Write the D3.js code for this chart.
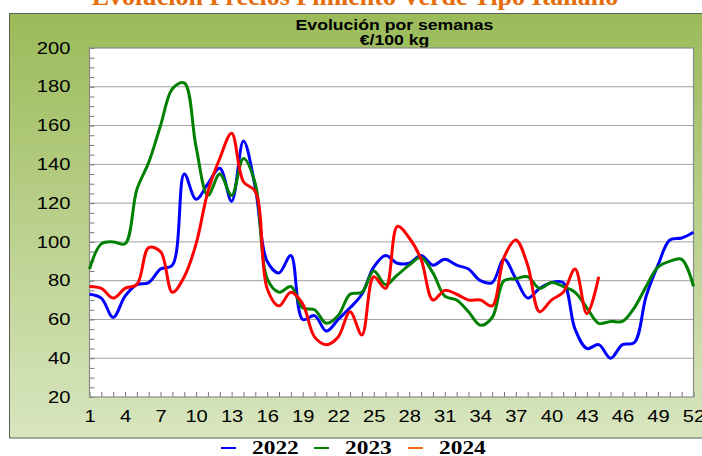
<!DOCTYPE html>
<html>
<head>
<meta charset="utf-8">
<script src="https://cdn.jsdelivr.net/npm/d3@7"></script>
<style>
  body { margin: 0; background: #fff; }
  text { font-family: "Liberation Sans", Arial, sans-serif; }
</style>
</head>
<body>
<svg id="chart"></svg>
<script>
// weekly prices, €/100 kg
const weeks = d3.range(1, 53);
const weekLabels = [1, 4, 7, 10, 13, 16, 19, 22, 25, 28, 31, 34, 37, 40, 43, 46, 49, 52];
const yTicks = [20, 40, 60, 80, 100, 120, 140, 160, 180, 200];

const values2022 = [73, 71, 61, 72, 78, 79, 86, 88, 135, 122, 130, 138, 121, 152, 128, 90, 84, 93,
  60, 62, 54, 60, 66, 73, 87, 93, 89, 89, 93, 88, 91, 88, 86, 80, 79, 91, 81, 71, 76, 79, 79,
  55, 45, 47, 40, 47, 48, 72, 88, 101, 102, 105];
const values2023 = [86, 99, 100, 99, 127, 141, 160, 179, 182, 149, 124, 135, 124, 143, 130, 81, 74, 77,
  66, 65, 58, 62, 73, 74, 85, 78, 83, 88, 92, 84, 72, 70, 64, 57, 61, 80, 81, 82, 76, 79, 77,
  74, 66, 58, 59, 59, 66, 77, 87, 90, 91, 77];
const values2024 = [77, 76, 71, 76, 78, 97, 95, 74, 82, 99, 126, 143, 156, 131, 126, 76, 67, 74,
  68, 51, 47, 51, 64, 52, 82, 76, 108, 102, 91, 70, 75, 73, 70, 70, 67, 92, 101, 88, 64, 70, 74,
  86, 63, 82];

const series = [
  { name: "2022", values: values2022, color: "#0000ff", key: "#0000ff" },
  { name: "2023", values: values2023, color: "#008000", key: "#008000" },
  { name: "2024", values: values2024, color: "#ff0000", key: "#ff6a1a" }
];

const W = 702, H = 456;
const plot = { left: 89.5, right: 693.5, top: 48, bottom: 397 };
const sx = 1.26; // text in the picture is a bit wide

const svg = d3.select("#chart").attr("width", W).attr("height", H);

// green panel with gradient
const grad = svg.append("defs").append("linearGradient")
  .attr("id", "bg").attr("x1", 0).attr("y1", 0).attr("x2", 0).attr("y2", 1);
grad.append("stop").attr("offset", "0%").attr("stop-color", "#9bbb59");
grad.append("stop").attr("offset", "100%").attr("stop-color", "#d8e5bf");

svg.append("rect")
  .attr("x", 9.5).attr("y", 13.5).attr("width", 700).attr("height", 424.5)
  .attr("fill", "url(#bg)").attr("stroke", "#5a5f50").attr("stroke-width", 1);

// page title, mostly cut off at the top
svg.append("text")
  .attr("x", 355).attr("y", 5)
  .attr("text-anchor", "middle")
  .style("font-family", "'Liberation Serif', 'Times New Roman', serif")
  .style("font-weight", "bold").style("font-size", "26px")
  .attr("fill", "#e46c0a")
  .text("Evolución Precios Pimiento Verde Tipo Italiano");

// chart title
[["Evolución por semanas", 30], ["€/100 kg", 45]].forEach(([t, yy]) => {
  svg.append("text")
    .attr("transform", `translate(394.5,${yy}) scale(${sx},1)`)
    .attr("text-anchor", "middle")
    .style("font-weight", "bold").style("font-size", "14px")
    .attr("fill", "#000")
    .text(t);
});

const x = d3.scaleLinear().domain([1, 52]).range([plot.left, plot.right]);
const y = d3.scaleLinear().domain([20, 200]).range([plot.bottom, plot.top]);

// plot area
svg.append("rect")
  .attr("x", plot.left).attr("y", plot.top)
  .attr("width", plot.right - plot.left).attr("height", plot.bottom - plot.top)
  .attr("fill", "#fff");

// gridlines
svg.append("g").selectAll("line")
  .data(yTicks.filter(d => d > 20 && d < 200))
  .enter().append("line")
  .attr("x1", plot.left).attr("x2", plot.right)
  .attr("y1", d => y(d)).attr("y2", d => y(d))
  .attr("stroke", "#a0a0a0").attr("stroke-width", 1);

// y axis: minor ticks every 5, labels every 20
const yAxis = svg.append("g")
  .attr("transform", `translate(${plot.left},0)`)
  .call(d3.axisLeft(y)
    .tickValues(d3.range(20, 201, 5))
    .tickSize(-5)
    .tickPadding(19)
    .tickFormat(d => yTicks.includes(d) ? d : ""));
yAxis.select(".domain").remove();
yAxis.selectAll(".tick line").attr("stroke", "#777");
yAxis.selectAll("text")
  .attr("x", 0)
  .attr("transform", `translate(-19,0) scale(${sx},1)`)
  .style("font-size", "16px").attr("fill", "#000");

// x axis: tick every week, label every 3rd
const xAxis = svg.append("g")
  .attr("transform", `translate(0,${plot.bottom})`)
  .call(d3.axisBottom(x)
    .tickValues(weeks)
    .tickSize(-5)
    .tickPadding(13.5)
    .tickFormat(d => weekLabels.includes(d) ? d : ""));
xAxis.select(".domain").remove();
xAxis.selectAll(".tick line").attr("stroke", "#777");
xAxis.selectAll("text")
  .attr("transform", `scale(${sx},1)`)
  .style("font-size", "16px").attr("fill", "#000");

// plot border
svg.append("rect")
  .attr("x", plot.left).attr("y", plot.top)
  .attr("width", plot.right - plot.left).attr("height", plot.bottom - plot.top)
  .attr("fill", "none").attr("stroke", "#8a8a8a").attr("stroke-width", 1.2);

// lines
const line = d3.line()
  .x((d, i) => x(weeks[i]))
  .y(d => y(d))
  .curve(d3.curveCatmullRom);

svg.append("g").selectAll("path")
  .data(series)
  .enter().append("path")
  .attr("d", d => line(d.values))
  .attr("fill", "none")
  .attr("stroke", d => d.color)
  .attr("stroke-width", 3)
  .attr("stroke-linejoin", "round");

// legend
const legendX = [221, 314, 408];
const legend = svg.append("g").selectAll("g")
  .data(series)
  .enter().append("g")
  .attr("transform", (d, i) => `translate(${legendX[i]},448)`);
legend.append("line")
  .attr("x1", 0).attr("x2", 15)
  .attr("stroke", d => d.key).attr("stroke-width", 2);
legend.append("text")
  .attr("transform", `translate(31,5.5) scale(1.3,1)`)
  .style("font-family", "'Liberation Serif', 'Times New Roman', serif")
  .style("font-weight", "bold").style("font-size", "18px")
  .attr("fill", "#000")
  .text(d => d.name);
</script>
</body>
</html>
